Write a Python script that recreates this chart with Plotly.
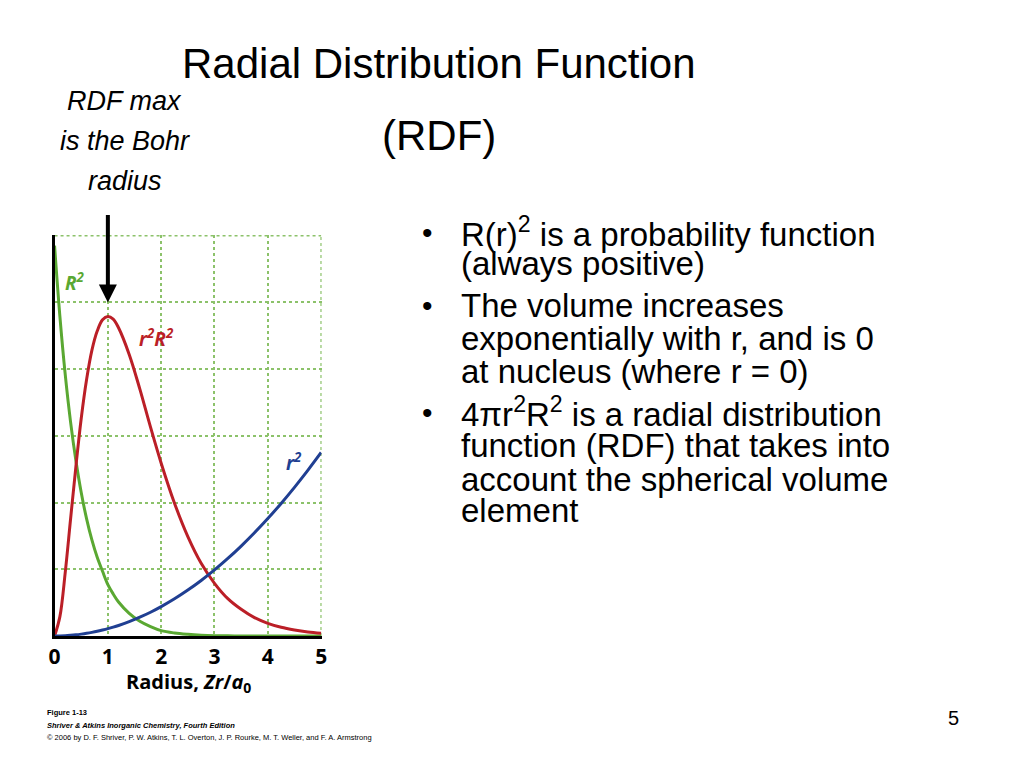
import plotly.graph_objects as go

# ---- data ----
radius = [0, 0.1, 0.2, 0.3, 0.4, 0.5, 0.6, 0.7, 0.8, 0.9, 1.0, 1.1, 1.2, 1.4, 1.6, 1.8,
          2.0, 2.25, 2.5, 2.75, 3.0, 3.25, 3.5, 3.75, 4.0, 4.25, 4.5, 4.75, 5.0]
R2 = [5.85, 4.79, 3.92, 3.21, 2.63, 2.15, 1.76, 1.44, 1.18, 0.97, 0.77, 0.63, 0.51, 0.34, 0.22, 0.14,
      0.08, 0.045, 0.025, 0.012, 0.005, 0.002, 0.0, 0.0, 0.0, 0.0, 0.0, 0.0, 0.0]
r2R2 = [0.0, 0.29, 0.95, 1.75, 2.54, 3.26, 3.84, 4.28, 4.57, 4.74, 4.79, 4.75, 4.62, 4.22, 3.70, 3.13,
        2.59, 1.99, 1.49, 1.09, 0.79, 0.56, 0.40, 0.275, 0.19, 0.13, 0.09, 0.06, 0.04]
r2 = [0.0, 0.001, 0.004, 0.01, 0.018, 0.028, 0.04, 0.054, 0.07, 0.089, 0.11, 0.133, 0.158, 0.216, 0.282, 0.356,
      0.44, 0.557, 0.688, 0.832, 0.99, 1.162, 1.348, 1.547, 1.76, 1.987, 2.228, 2.482, 2.75]
x_ticks = [0, 1, 2, 3, 4, 5]
x_max = 5
y_max = 6
rdf_peak_r = 1.0
arrow_tip_y = 5.0

GREEN = "#5aa832"
RED = "#bb1f27"
BLUE = "#203f92"
GRID = "#8cc26a"

W, H = 1024, 768
OX, OY = 8, 8  # page body margin
def px(x):
    return (x - OX) / W
def py(y):
    return 1 - (y - OY) / H

fig = go.Figure()
fig.add_trace(go.Scatter(x=radius, y=R2, mode="lines", line=dict(color=GREEN, width=3, shape="spline"),
                         hoverinfo="skip", showlegend=False))
fig.add_trace(go.Scatter(x=radius, y=r2R2, mode="lines", line=dict(color=RED, width=3, shape="spline"),
                         hoverinfo="skip", showlegend=False))
fig.add_trace(go.Scatter(x=radius, y=r2, mode="lines", line=dict(color=BLUE, width=3, shape="spline"),
                         hoverinfo="skip", showlegend=False))

fig.update_layout(
    width=W, height=H, margin=dict(l=0, r=0, t=0, b=0),
    paper_bgcolor="white", plot_bgcolor="white",
    xaxis=dict(domain=[px(49), px(319)], range=[0, x_max + 0.01], tickvals=x_ticks,
               showgrid=True, gridcolor=GRID, griddash="dot", gridwidth=1.5,
               showline=True, linecolor="black", linewidth=3, zeroline=False,
               ticks="", ticklen=0,
               tickfont=dict(family="Open Sans", size=21, color="black", weight="bold")),
    yaxis=dict(domain=[py(636), py(235)], range=[0, y_max + 0.01], dtick=1,
               showgrid=True, gridcolor=GRID, griddash="dot", gridwidth=1.5,
               showline=True, linecolor="black", linewidth=3, zeroline=False,
               showticklabels=False, ticks=""),
)

# frame gridlines at the top and right edge of the grid
fig.add_shape(type="line", xref="x", yref="y", x0=0, x1=x_max, y0=y_max, y1=y_max,
              line=dict(color=GRID, width=1.5, dash="dot"), layer="below")
fig.add_shape(type="line", xref="x", yref="y", x0=x_max, x1=x_max, y0=0, y1=y_max,
              line=dict(color=GRID, width=1.5, dash="dot"), layer="below")

ann = []
def text(x, y, t, size, family="Liberation Sans", color="black", xanchor="center",
         weight="normal", style="normal"):
    ann.append(dict(x=px(x), y=py(y), xref="paper", yref="paper", text=t, showarrow=False,
                    xanchor=xanchor, yanchor="middle",
                    font=dict(family=family, size=size, color=color, weight=weight, style=style)))

# title
TF = "Liberation Sans, Arial"
text(438, 63, "Radial Distribution Function", 42, family=TF)
text(438, 135, "(RDF)", 42, family=TF)

# left note
for yy, t in [(101, "RDF max"), (141, "is the Bohr"), (181, "radius")]:
    text(120, yy, t, 27, style="italic")

# bullets
bullets = [
    (232, "•", "R(r)<sup>2</sup> is a probability function"),
    (264, None, "(always positive)"),
    (305, "•", "The volume increases"),
    (339, None, "exponentially with r, and is 0"),
    (372, None, "at nucleus (where r = 0)"),
    (412, "•", "4πr<sup>2</sup>R<sup>2</sup> is a radial distribution"),
    (445, None, "function (RDF) that takes into"),
    (479, None, "account the spherical volume"),
    (510, None, "element"),
]
for yy, b, t in bullets:
    if b:
        text(426, yy, b, 30)
    text(458, yy, t, 33, xanchor="left")

# curve labels
LF = "Open Sans"
text(70, 282, "R<sup>2</sup>", 19, family=LF, color=GREEN, weight="bold", style="italic")
text(152, 338, "r<sup>2</sup>R<sup>2</sup>", 19, family=LF, color=RED, weight="bold", style="italic")
text(291, 462, "r<sup>2</sup>", 19, family=LF, color=BLUE, weight="bold", style="italic")

# axis title
text(184, 682, "Radius, <i>Zr</i>/<i>a</i><sub>0</sub>", 20, family=LF, weight="bold")

# caption
CF = "Liberation Sans"
text(39, 712, "<b>Figure 1-13</b>", 7.5, family=CF, xanchor="left")
text(39, 725, "<b><i>Shriver &amp; Atkins Inorganic Chemistry, Fourth Edition</i></b>", 7.5, family=CF, xanchor="left")
text(39, 737, "© 2006 by D. F. Shriver, P. W. Atkins, T. L. Overton, J. P. Rourke, M. T. Weller, and F. A. Armstrong",
     7.5, family=CF, xanchor="left")

# page number
text(958, 718, "5", 20)

# arrow pointing at RDF max
ann.append(dict(x=rdf_peak_r, y=arrow_tip_y, xref="x", yref="y", ax=0, ay=-89, axref="pixel", ayref="pixel",
                text="", showarrow=True, arrowhead=2, arrowsize=0.9, arrowwidth=4,
                arrowcolor="black", standoff=0))

fig.update_layout(annotations=ann)
fig.write_html("out.html")
